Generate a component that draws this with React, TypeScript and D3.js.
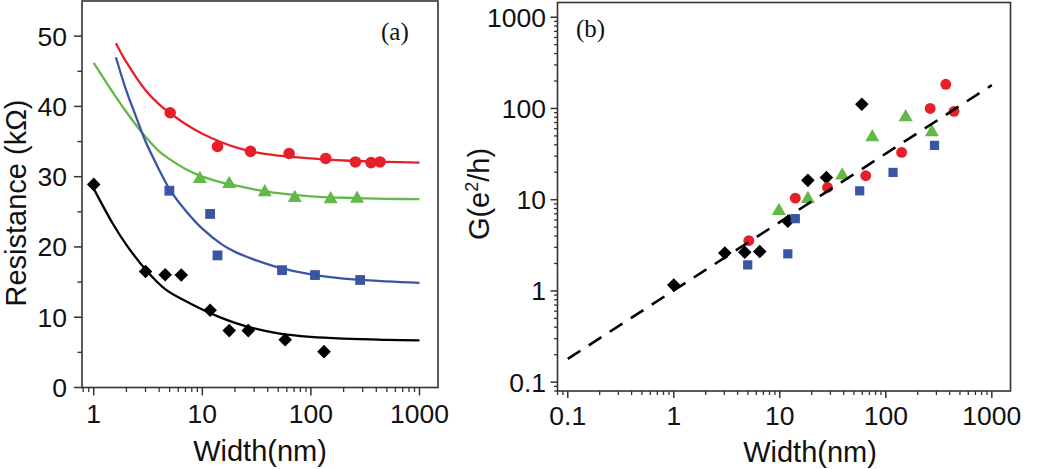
import React from 'react';
import * as d3 from 'd3';

// ---------- Data: panel (a) Resistance vs Width ----------
const blackA_W = [1, 3.0, 4.55, 6.4, 11.8, 17.7, 26.5, 58, 132];
const blackA_R = [28.9, 16.5, 16.05, 16.0, 11.0, 8.1, 8.1, 6.8, 5.1];
const redA_W = [5.06, 13.8, 27.8, 63, 137, 257, 358, 433];
const redA_R = [39.1, 34.3, 33.6, 33.3, 32.6, 32.1, 32.0, 32.1];
const greenA_W = [9.5, 17.7, 37.6, 71, 152, 266];
const greenA_R = [29.8, 29.1, 27.9, 27.1, 26.9, 27.0];
const blueA_W = [4.97, 11.8, 13.8, 54.2, 109, 284];
const blueA_R = [28.0, 24.7, 18.8, 16.7, 16.0, 15.3];

// fitted curves
const blackFitW = [1, 1.5, 2, 3, 4.55, 7, 10, 15, 20, 30, 50, 100, 200, 500, 1000];
const blackFitR = [28.3, 23.3, 20.3, 16.8, 14.0, 12.3, 11.1, 9.9, 9.2, 8.4, 7.7, 7.2, 6.95, 6.78, 6.7];
const redFitW = [1.6, 2, 3, 4, 5, 7, 10, 15, 20, 30, 50, 100, 200, 500, 1000];
const redFitR = [49.0, 46.3, 42.3, 40.3, 39.1, 37.5, 36.1, 34.9, 34.2, 33.5, 33.0, 32.6, 32.3, 32.1, 32.0];
const greenFitW = [1, 1.5, 2, 2.84, 4, 5, 7, 10, 15, 20, 30, 50, 100, 200, 500, 1000];
const greenFitR = [46.2, 42.0, 39.2, 36.1, 33.6, 32.5, 31.1, 30.0, 29.2, 28.75, 28.2, 27.65, 27.2, 27.0, 26.85, 26.8];
const blueFitW = [1.6, 2, 2.5, 3, 4, 5, 7, 10, 15, 20, 30, 50, 100, 200, 500, 1000];
const blueFitR = [47.0, 42.2, 38.2, 35.0, 31.0, 28.2, 25.2, 22.6, 20.4, 19.3, 18.2, 17.1, 16.1, 15.5, 15.1, 14.9];

const resTicks = [0, 10, 20, 30, 40, 50];
const resMinor = [5, 15, 25, 35, 45];
const widthTicksA = [1, 10, 100, 1000];

// ---------- Data: panel (b) Conductance vs Width ----------
const blackB_W = [1.0, 3.03, 4.67, 6.47, 11.9, 18.4, 27.5, 59.4];
const blackB_G = [1.16, 2.6, 2.65, 2.7, 5.8, 16.3, 17.5, 111];
const redB_W = [5.1, 14.0, 28.2, 64.7, 141, 262, 368, 440];
const redB_G = [3.56, 10.4, 13.6, 18.3, 33, 100, 184, 93];
const greenB_W = [9.8, 18.4, 38.8, 74.5, 154, 272];
const greenB_G = [7.7, 10.4, 18.8, 49.4, 81.8, 56];
const blueB_W = [4.98, 11.9, 14.0, 56.7, 117, 288];
const blueB_G = [1.93, 2.55, 6.2, 12.5, 19.9, 39.4];
const dashW = [0.1, 1000];
const dashG = [0.18, 180];

const gTicks = [0.1, 1, 10, 100, 1000];
const widthTicksB = [0.1, 1, 10, 100, 1000];

const RED = '#e6202a';
const GREEN = '#62b947';
const BLUE = '#3a55a5';
const BLACK = '#000000';
const FRAME = '#333333';
const FONT = '"Liberation Sans", Arial, sans-serif';
const SERIF = '"Liberation Serif", "Times New Roman", serif';

type Shape = 'diamond' | 'circle' | 'square' | 'triangle';

function Marker({ shape, x, y, s, color }: { shape: Shape; x: number; y: number; s: number; color: string }) {
  if (shape === 'circle') return <circle cx={x} cy={y} r={s * 0.85} fill={color} />;
  if (shape === 'square')
    return <rect x={x - s * 0.72} y={y - s * 0.72} width={s * 1.44} height={s * 1.44} fill={color} />;
  if (shape === 'diamond')
    return <path d={`M${x},${y - s} L${x + s},${y} L${x},${y + s} L${x - s},${y} Z`} fill={color} />;
  return <path d={`M${x},${y - s * 1.05} L${x + s},${y + s * 0.7} L${x - s},${y + s * 0.7} Z`} fill={color} />;
}

function minorLog(lo: number, hi: number): number[] {
  const out: number[] = [];
  for (let e = Math.floor(Math.log10(lo)); e <= Math.ceil(Math.log10(hi)); e++) {
    for (let m = 2; m <= 9; m++) {
      const v = m * Math.pow(10, e);
      if (v >= lo && v <= hi) out.push(v);
    }
  }
  return out;
}

function PanelA() {
  const L = 82, R = 438, T = 1, B = 387.5;
  const x = d3.scaleLog().domain([0.78, 1480]).range([L, R]);
  const y = d3.scaleLinear().domain([0, 55]).range([B, T]);
  const mk = (ws: number[], rs: number[]) =>
    d3.line<number>().x((_, i) => x(ws[i])).y((d) => y(d)).curve(d3.curveCatmullRom.alpha(0.5))(rs) || '';
  const series: { w: number[]; r: number[]; fw: number[]; fr: number[]; c: string; shape: Shape; s: number }[] = [
    { w: blackA_W, r: blackA_R, fw: blackFitW, fr: blackFitR, c: BLACK, shape: 'diamond', s: 6.8 },
    { w: greenA_W, r: greenA_R, fw: greenFitW, fr: greenFitR, c: GREEN, shape: 'triangle', s: 7 },
    { w: redA_W, r: redA_R, fw: redFitW, fr: redFitR, c: RED, shape: 'circle', s: 6.8 },
    { w: blueA_W, r: blueA_R, fw: blueFitW, fr: blueFitR, c: BLUE, shape: 'square', s: 6.8 },
  ];
  return (
    <g>
      {series.map((sr, k) => (
        <path key={'l' + k} d={mk(sr.fw, sr.fr)} fill="none" stroke={sr.c} strokeWidth={2.3} />
      ))}
      {series.map((sr, k) =>
        sr.w.map((w, i) => <Marker key={`m${k}-${i}`} shape={sr.shape} x={x(w)} y={y(sr.r[i])} s={sr.s} color={sr.c} />)
      )}
      <rect x={L} y={T} width={R - L} height={B - T} fill="none" stroke={FRAME} strokeWidth={1.6} />
      {resTicks.map((t) => (
        <g key={'yt' + t}>
          <line x1={L - 8} x2={L} y1={y(t)} y2={y(t)} stroke={FRAME} strokeWidth={1.5} />
          <text x={67} y={y(t)} dy="0.36em" textAnchor="end" fontFamily={FONT} fontSize={26.5} fill="#111">
            {t}
          </text>
        </g>
      ))}
      {resMinor.map((t) => (
        <line key={'ym' + t} x1={L - 4.5} x2={L} y1={y(t)} y2={y(t)} stroke={FRAME} strokeWidth={1.4} />
      ))}
      {widthTicksA.map((t) => (
        <g key={'xt' + t}>
          <line x1={x(t)} x2={x(t)} y1={B} y2={B + 8} stroke={FRAME} strokeWidth={1.5} />
          <text x={x(t)} y={423} textAnchor="middle" fontFamily={FONT} fontSize={26.5} fill="#111">
            {t}
          </text>
        </g>
      ))}
      {minorLog(0.78, 1480).map((t) => (
        <line key={'xm' + t} x1={x(t)} x2={x(t)} y1={B} y2={B + 4.5} stroke={FRAME} strokeWidth={1.3} />
      ))}
      <text x={260} y={461} textAnchor="middle" fontFamily={FONT} fontSize={29} fill="#111">
        Width(nm)
      </text>
      <text
        transform={`translate(25.5,203) rotate(-90)`}
        textAnchor="middle"
        fontFamily={FONT}
        fontSize={29}
        fill="#111"
      >
        Resistance (kΩ)
      </text>
      <text x={381} y={40} fontFamily={SERIF} fontSize={25} fill="#111">
        (a)
      </text>
    </g>
  );
}

function PanelB() {
  const L = 557.5, R = 1010.5, T = 2.5, B = 391;
  const x = d3.scaleLog().domain([0.08, 1500]).range([L, R]);
  const y = d3.scaleLog().domain([0.08, 1450]).range([B, T]);
  const series: { w: number[]; g: number[]; c: string; shape: Shape; s: number }[] = [
    { w: blackB_W, g: blackB_G, c: BLACK, shape: 'diamond', s: 6.8 },
    { w: redB_W, g: redB_G, c: RED, shape: 'circle', s: 6.4 },
    { w: greenB_W, g: greenB_G, c: GREEN, shape: 'triangle', s: 7 },
    { w: blueB_W, g: blueB_G, c: BLUE, shape: 'square', s: 6.4 },
  ];
  const dash = d3.line<number>().x((_, i) => x(dashW[i])).y((d) => y(d))(dashG) || '';
  return (
    <g>
      {series.map((sr, k) =>
        sr.w.map((w, i) => <Marker key={`b${k}-${i}`} shape={sr.shape} x={x(w)} y={y(sr.g[i])} s={sr.s} color={sr.c} />)
      )}
      <path d={dash} fill="none" stroke={BLACK} strokeWidth={2.6} strokeDasharray="15 10" />
      <rect x={L} y={T} width={R - L} height={B - T} fill="none" stroke={FRAME} strokeWidth={1.6} />
      {gTicks.map((t) => (
        <g key={'gy' + t}>
          <line x1={L - 7} x2={L} y1={y(t)} y2={y(t)} stroke={FRAME} strokeWidth={1.5} />
          <text x={546} y={y(t)} dy="0.36em" textAnchor="end" fontFamily={FONT} fontSize={26.5} fill="#111">
            {t}
          </text>
        </g>
      ))}
      {minorLog(0.08, 1450).map((t) => (
        <line key={'gm' + t} x1={L - 3.5} x2={L} y1={y(t)} y2={y(t)} stroke={FRAME} strokeWidth={1.3} />
      ))}
      {widthTicksB.map((t) => (
        <g key={'gx' + t}>
          <line x1={x(t)} x2={x(t)} y1={B} y2={B + 7} stroke={FRAME} strokeWidth={1.5} />
          <text x={x(t)} y={425} textAnchor="middle" fontFamily={FONT} fontSize={26.5} fill="#111">
            {t}
          </text>
        </g>
      ))}
      {minorLog(0.08, 1500).map((t) => (
        <line key={'gxm' + t} x1={x(t)} x2={x(t)} y1={B} y2={B + 4} stroke={FRAME} strokeWidth={1.3} />
      ))}
      <text x={810} y={462} textAnchor="middle" fontFamily={FONT} fontSize={29} fill="#111">
        Width(nm)
      </text>
      <text transform={`translate(489,194) rotate(-90)`} textAnchor="middle" fontFamily={FONT} fontSize={29} fill="#111">
        G(e
        <tspan fontSize={18} dy={-11}>
          2
        </tspan>
        <tspan dy={11}>/h)</tspan>
      </text>
      <text x={576} y={37} fontFamily={SERIF} fontSize={25} fill="#111">
        (b)
      </text>
    </g>
  );
}

export default function App() {
  return (
    <svg
      width={1050}
      height={469}
      viewBox="0 0 1050 469"
      style={{ position: 'absolute', left: 0, top: 0, background: '#ffffff' }}
    >
      <rect x={0} y={0} width={1050} height={469} fill="#ffffff" />
      <PanelA />
      <PanelB />
    </svg>
  );
}
